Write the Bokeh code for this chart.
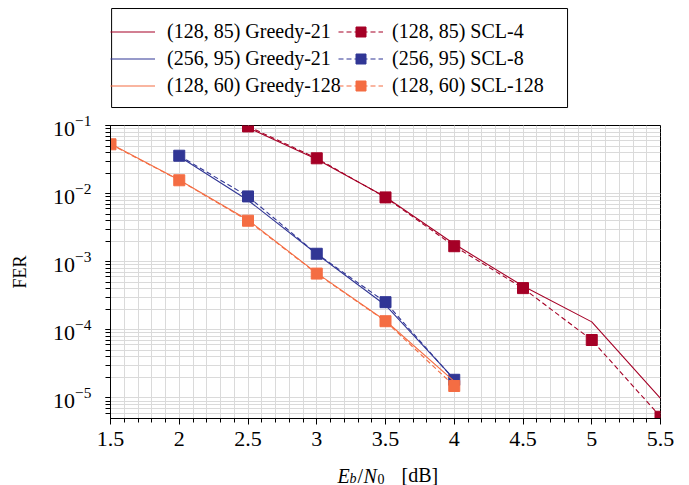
from bokeh.plotting import figure
from bokeh.models import (Range1d, FixedTicker, Legend, LegendItem, Label, BoxAnnotation)
from bokeh.layouts import column
from bokeh.embed import file_html
from bokeh.resources import INLINE

# ---------------- data ----------------
x_red = [2.5, 3.0, 3.5, 4.0, 4.5, 5.0, 5.5]
red_greedy = [0.093, 0.032, 0.0089, 0.00182, 4.4e-4, 1.31e-4, 9.9e-6]
red_scl = [0.097, 0.033, 0.0088, 0.00169, 4.1e-4, 7.1e-5, 5.3e-6]

x_blue = [2.0, 2.5, 3.0, 3.5, 4.0]
blue_greedy = [0.035, 0.0080, 0.00130, 2.3e-4, 1.9e-5]
blue_scl = [0.036, 0.0091, 0.00131, 2.55e-4, 1.85e-5]

x_orange = [1.5, 2.0, 2.5, 3.0, 3.5, 4.0]
orange_greedy = [0.054, 0.0158, 0.0041, 6.8e-4, 1.36e-4, 1.75e-5]
orange_scl = [0.053, 0.0157, 0.0040, 6.7e-4, 1.34e-4, 1.5e-5]

labels_greedy = ["(128, 85) Greedy-21", "(256, 95) Greedy-21", "(128, 60) Greedy-128"]
labels_scl = ["(128, 85) SCL-4", "(256, 95) SCL-8", "(128, 60) SCL-128"]

x_ticks = [1.5, 2.0, 2.5, 3.0, 3.5, 4.0, 4.5, 5.0, 5.5]
y_ticks = [1e-5, 1e-4, 1e-3, 1e-2, 1e-1]

RED = "#A50026"
BLUE = "#313695"
ORANGE = "#F46D43"
FONT = "Liberation Serif"
GRID = "#dadada"
DASH = "5 3"

series = [
    (x_red, red_greedy, red_scl, RED),
    (x_blue, blue_greedy, blue_scl, BLUE),
    (x_orange, orange_greedy, orange_scl, ORANGE),
]

# ---------------- main plot ----------------
p = figure(width=689, height=352, output_backend="svg", toolbar_location=None,
           y_axis_type="log",
           x_range=Range1d(1.5, 5.5), y_range=Range1d(5e-6, 0.1),
           min_border_left=110, min_border_right=29,
           min_border_top=15, min_border_bottom=44)

p.outline_line_color = "black"
p.outline_line_width = 1
p.background_fill_color = "white"
p.border_fill_color = "white"

x_minor = [round(1.5 + 0.1 * i, 2) for i in range(41)]
y_minor = []
for e in range(-6, 0):
    for m in range(1, 10):
        v = m * 10.0 ** e
        if 5e-6 <= v <= 0.1:
            y_minor.append(v)
p.xaxis.ticker = FixedTicker(ticks=x_ticks, minor_ticks=x_minor)
p.yaxis.ticker = FixedTicker(ticks=y_ticks, minor_ticks=y_minor)

for ax in (p.xaxis[0], p.yaxis[0]):
    ax.axis_line_color = "black"
    ax.major_tick_line_color = "black"
    ax.minor_tick_line_color = "black"
    ax.major_tick_in = 0
    ax.minor_tick_in = 0
    ax.major_label_text_font = FONT
    ax.major_label_text_font_size = "22px"
    ax.major_label_text_color = "black"
    ax.axis_label_text_font = FONT
    ax.axis_label_text_font_style = "normal"
    ax.axis_label_text_color = "black"

p.xaxis.major_tick_out = 6
p.xaxis.minor_tick_out = 4
p.yaxis.major_tick_out = 5
p.yaxis.minor_tick_out = 5
p.xaxis.major_label_standoff = 7
p.yaxis.major_label_standoff = 14
p.yaxis.axis_label = "FER"
p.yaxis.axis_label_text_font_size = "18px"
p.yaxis.axis_label_standoff = 20

for g in (p.xgrid[0], p.ygrid[0]):
    g.grid_line_color = GRID
    g.grid_line_width = 1
    g.minor_grid_line_color = GRID
    g.minor_grid_line_width = 1

for xs, yg, ys, col in series:
    p.line(xs, yg, line_color=col, line_width=1.1)
    p.line(xs, ys, line_color=col, line_width=1.1, line_dash=DASH)
    p.scatter(xs, ys, marker="square", size=11, fill_color=col, line_color=col)

# ---------------- legend strip above ----------------
# (the series are drawn here outside the strip's view; only their legend samples show)
tf = figure(width=689, height=110, output_backend="svg", toolbar_location=None,
            x_range=Range1d(0, 1), y_range=Range1d(0, 1),
            min_border=0, x_axis_location=None, y_axis_location=None)
tf.outline_line_color = None
tf.grid.visible = False
tf.background_fill_color = "white"
tf.border_fill_color = "white"

greedy_items = []
scl_items = []
for i, (xs, yg, ys, col) in enumerate(series):
    rg = tf.line(xs, yg, line_color=col, line_width=1.1)
    rl = tf.line(xs, ys, line_color=col, line_width=1.1, line_dash=DASH)
    rm = tf.scatter(xs, ys, marker="square", size=11, fill_color=col, line_color=col)
    greedy_items.append(LegendItem(label=labels_greedy[i], renderers=[rg]))
    scl_items.append(LegendItem(label=labels_scl[i], renderers=[rl, rm]))

common = dict(label_text_font=FONT, label_text_font_size="20px",
              label_text_color="black",
              glyph_width=45, glyph_height=25, label_height=25,
              spacing=2, padding=8, margin=0,
              border_line_color=None, background_fill_alpha=0.0)
leg_a = Legend(items=greedy_items, location=(0, 12), label_standoff=12, **common)
leg_b = Legend(items=scl_items, location=(228, 12), label_standoff=9, **common)
tf.add_layout(leg_a, "center")
tf.add_layout(leg_b, "center")
tf.add_layout(BoxAnnotation(left=0.002, right=0.831, bottom=0.027, top=0.927,
                            fill_alpha=0.0, line_color="black", line_width=1,
                            line_alpha=1.0))

# ---------------- x-axis label strip below ----------------
lf = figure(width=689, height=23, output_backend="svg", toolbar_location=None,
            x_range=Range1d(0, 1), y_range=Range1d(0, 1),
            min_border=0, x_axis_location=None, y_axis_location=None)
lf.outline_line_color = None
lf.grid.visible = False
lf.background_fill_color = "white"
lf.border_fill_color = "white"

pieces = [
    ("E", 227, 10, "20px", "italic"),
    ("b", 239, 7, "14px", "italic"),
    ("/", 247, 10, "20px", "normal"),
    ("N", 253, 10, "20px", "italic"),
    ("0", 267, 7, "14px", "normal"),
    ("[dB]", 291, 11, "20px", "normal"),
]
for txt, sx, sy, fs, st in pieces:
    lf.add_layout(Label(x=sx, y=sy, x_units="screen", y_units="screen", text=txt,
                        text_font=FONT, text_font_size=fs, text_font_style=st,
                        text_color="black", text_baseline="alphabetic",
                        text_align="left"))

layout = column(tf, p, lf, spacing=0)
open("out.html", "w").write(file_html(layout, INLINE))
